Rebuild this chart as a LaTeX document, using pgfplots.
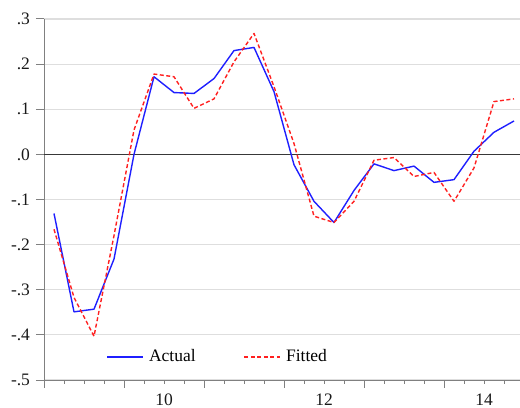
\documentclass[border=0pt]{standalone}
\usepackage{pgfplots}
\pgfplotsset{compat=1.18}
\usepackage{fontspec}
\setmainfont{Liberation Serif}
\definecolor{actual}{HTML}{1F1FFF}
\definecolor{fitted}{HTML}{FF2020}
\definecolor{spine}{HTML}{808080}
\definecolor{gridc}{HTML}{DEDEDE}
\definecolor{zeroc}{HTML}{383838}
\begin{document}
\fontsize{17.5bp}{20bp}\selectfont
\begin{tikzpicture}
\useasboundingbox (0,0) rectangle (520bp,408bp);
\begin{axis}[
  at={(44bp,28bp)}, anchor=south west,
  scale only axis, width=476bp, height=361bp,
  xmin=0, xmax=23.8, ymin=-0.5, ymax=0.3,
  axis x line*=bottom, axis y line*=left,
  axis line style={spine, line width=1bp, -},
  tick align=outside,
  major tick length=8bp, minor tick length=4bp,
  every tick/.style={spine, line width=1bp},
  xtick={0,4,8,12,16,20,24}, xticklabels={},
  minor x tick num=3,
  extra x ticks={6,14,22}, extra x tick labels={10,12,14},
  extra x tick style={major tick length=0pt, xticklabel style={yshift=-8bp}},
  ytick={-0.5,-0.4,-0.3,-0.2,-0.1,0,0.1,0.2,0.3},
  yticklabels={-.5,-.4,-.3,-.2,-.1,.0,.1,.2,.3},
  /pgf/number format/assume math mode=true,
  ymajorgrids, grid style={gridc, line width=1.2bp},
  ticklabel style={font=\fontsize{17.5bp}{20bp}\selectfont, text=black!90},
  legend columns=2,
  legend style={draw=none, fill=none, at={(0.125,0.064)}, anchor=west,
    font=\fontsize{17.5bp}{20bp}\selectfont,
    /tikz/every even column/.append style={column sep=46bp}},
  legend image code/.code={\draw[#1] (0bp,0bp) -- (36bp,0bp); \path (39bp,0bp);},
]
\draw[zeroc, line width=1.3bp] (axis cs:0,0) -- (axis cs:23.8,0);
\addplot[actual, line width=1.4bp, line join=round] coordinates {
(0.5,-0.131) (1.5,-0.349) (2.5,-0.343) (3.5,-0.232) (4.5,0.000) (5.5,0.172)
(6.5,0.137) (7.5,0.135) (8.5,0.168) (9.5,0.230) (10.5,0.237) (11.5,0.139)
(12.5,-0.023) (13.5,-0.104) (14.5,-0.151) (15.5,-0.080) (16.5,-0.021) (17.5,-0.036)
(18.5,-0.026) (19.5,-0.062) (20.5,-0.056) (21.5,0.007) (22.5,0.049) (23.5,0.074)
};
\addlegendentry{Actual}
\addplot[fitted, line width=1.4bp, dash pattern=on 4bp off 2.5bp, line join=round] coordinates {
(0.5,-0.166) (1.5,-0.317) (2.5,-0.403) (3.5,-0.180) (4.5,0.054) (5.5,0.178)
(6.5,0.172) (7.5,0.102) (8.5,0.123) (9.5,0.205) (10.5,0.268) (11.5,0.150)
(12.5,0.024) (13.5,-0.137) (14.5,-0.151) (15.5,-0.104) (16.5,-0.013) (17.5,-0.007)
(18.5,-0.049) (19.5,-0.040) (20.5,-0.104) (21.5,-0.030) (22.5,0.117) (23.5,0.123)
};
\addlegendentry{Fitted}
\end{axis}
\end{tikzpicture}
\end{document}
